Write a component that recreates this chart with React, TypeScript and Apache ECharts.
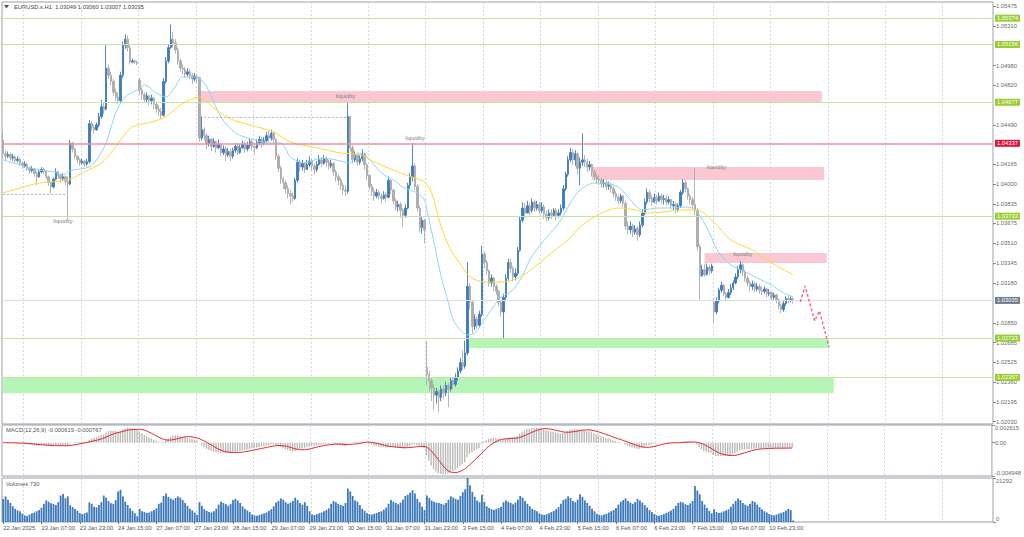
import React, { useEffect, useRef } from "react";
import * as echarts from "echarts";

// ---------- DATA (prices stored as points: price = 1 + pts / 100000) ----------
const symbolName = "EURUSD.s.H1";

// bars that open after a session gap (first bar, weekend gaps)
const sessionOpens: Record<number, number> = { 0: 4365, 57: 4860, 177: 2480, 297: 3020 };

const closePts = [
  4250, 4230, 4245, 4215, 4225, 4195, 4205, 4170, 4150, 4165,
  4130, 4110, 4125, 4085, 4060, 4100, 4120, 4105, 4060, 4010,
  3975, 4040, 4100, 4070, 4045, 4060, 4020, 4000, 4340, 4290,
  4230, 4200, 4175, 4190, 4165, 4185, 4500, 4470, 4450, 4490,
  4560, 4640, 4620, 4960, 4900, 4850, 4760, 4720, 4690, 4900,
  5150, 5200, 5130, 5010, 5020, 5010, 5000, 4780, 4740, 4700,
  4730, 4690, 4710, 4660, 4620, 4600, 4570, 4850, 5020, 5130,
  5200, 5170, 5110, 5020, 4960, 4950, 4910, 4930, 4900, 4870,
  4890, 4880, 4380, 4450, 4400, 4330, 4370, 4310, 4350, 4300,
  4330, 4260, 4290, 4240, 4270, 4230, 4280, 4310, 4260, 4300,
  4330, 4290, 4320, 4350, 4310, 4300, 4340, 4370, 4330, 4360,
  4400, 4380, 4420, 4370, 4230, 4130, 4040, 4010, 3960, 3920,
  3900, 3880, 4030, 4180, 4140, 4170, 4120, 4160, 4190, 4150,
  4120, 4160, 4200, 4170, 4210, 4180, 4150, 4170, 4100, 4060,
  4030, 3990, 3950, 3940, 4560, 4300, 4200, 4240, 4180, 4210,
  4250, 4160, 4070, 3980, 3940, 3900, 3930, 3900, 3880, 3910,
  3890, 4030, 3950, 3860, 3810, 3830, 3780, 3740, 3800, 3990,
  4060, 4150, 3980, 3800, 3640, 3700, 3620,
  2420, 2370, 2310, 2250, 2280, 2230, 2300, 2270, 2330, 2300,
  2370, 2340, 2400, 2450, 2520, 2490, 2600, 3150, 3020, 2820,
  2880, 2830, 2920, 3420, 3350, 3280, 3180, 3220, 3150, 3110,
  3020, 2940, 3060, 3220, 3350, 3300, 3230, 3260, 3450, 3700,
  3800, 3760, 3820, 3780, 3850, 3800, 3830, 3780, 3810, 3750,
  3720, 3760, 3740, 3780, 3740, 3760, 3800, 3960, 4080, 4200,
  4260, 4200, 4250, 4130, 4180, 4200, 4180, 4140, 4160, 4100,
  4060, 4040, 4030, 4000, 4010, 3980, 3990, 3960, 3920, 3890,
  3860, 3900, 3840, 3650, 3620, 3650, 3600, 3630, 3580, 3660,
  3760, 3850, 3930, 3880, 3850, 3890, 3860, 3900, 3870, 3880,
  3850, 3870, 3820, 3830, 3790, 3820, 3930, 4010, 3960, 3900,
  3870, 3830, 3780, 3480, 3240, 3290, 3250, 3310, 3280, 3320,
  2940, 3030, 3120, 3160, 3090, 3060, 3100, 3140, 3180, 3230,
  3290, 3330, 3270, 3220, 3180, 3150, 3170, 3130, 3150, 3120,
  3110, 3130, 3090, 3100, 3060, 3080, 3040, 2990, 2960, 3010,
  3050, 3040, 3049, 3035,
];

const highPts = [
  4440, 4280, 4270, 4260, 4250, 4240, 4230, 4215, 4185, 4190,
  4175, 4145, 4150, 4135, 4100, 4115, 4140, 4135, 4115, 4070,
  4020, 4055, 4130, 4110, 4085, 4090, 4070, 4060, 4365, 4350,
  4300, 4240, 4215, 4210, 4200, 4210, 4530, 4520, 4490, 4510,
  4590, 4700, 4680, 5150, 4990, 4930, 4870, 4790, 4760, 4930,
  5180, 5240, 5230, 5150, 5040, 5030, 5025, 4880, 4800, 4760,
  4760, 4740, 4740, 4720, 4680, 4650, 4630, 4880, 5050, 5160,
  5320, 5260, 5200, 5130, 5040, 4990, 4970, 4960, 4950, 4920,
  4920, 4910, 4890, 4560, 4470, 4420, 4400, 4380, 4380, 4360,
  4370, 4340, 4320, 4310, 4300, 4290, 4300, 4340, 4330, 4330,
  4360, 4350, 4350, 4380, 4370, 4340, 4370, 4400, 4390, 4390,
  4430, 4440, 4450, 4430, 4380, 4250, 4150, 4060, 4030, 3990,
  3950, 3930, 4050, 4210, 4200, 4200, 4180, 4200, 4230, 4210,
  4170, 4190, 4240, 4220, 4240, 4230, 4200, 4200, 4180, 4120,
  4080, 4050, 4010, 3990, 4680, 4480, 4320, 4270, 4250, 4240,
  4290, 4260, 4170, 4080, 4000, 3970, 3960, 3950, 3920, 3940,
  3930, 4060, 4040, 3960, 3880, 3860, 3850, 3800, 3830, 4010,
  4090, 4340, 4170, 4000, 3820, 3730, 3710,
  2700, 2450, 2400, 2340, 2310, 2300, 2330, 2330, 2360, 2350,
  2400, 2400, 2430, 2480, 2560, 2620, 2700, 3350, 3180, 3040,
  2920, 2900, 2950, 3490, 3440, 3370, 3290, 3250, 3230, 3170,
  3120, 3030, 3090, 3250, 3380, 3380, 3320, 3300, 3480, 3730,
  3850, 3840, 3860, 3840, 3880, 3870, 3860, 3850, 3850, 3830,
  3780, 3790, 3790, 3800, 3800, 3790, 3830, 3990, 4100, 4230,
  4300, 4290, 4280, 4260, 4220, 4420, 4240, 4210, 4190, 4170,
  4120, 4080, 4070, 4050, 4040, 4030, 4020, 4010, 3980, 3940,
  3910, 3920, 3910, 3860, 3690, 3690, 3670, 3660, 3650, 3690,
  3790, 3880, 3960, 3950, 3910, 3920, 3910, 3930, 3920, 3910,
  3910, 3900, 3880, 3860, 3850, 3840, 3950, 4040, 4030, 3970,
  3920, 3890, 4130, 3800, 3500, 3330, 3340, 3340, 3330, 3340,
  3050, 3060, 3140, 3190, 3170, 3110, 3130, 3170, 3200, 3260,
  3320, 3360, 3350, 3290, 3240, 3200, 3200, 3190, 3180, 3170,
  3150, 3150, 3140, 3130, 3110, 3100, 3090, 3050, 3010, 3030,
  3070, 3080, 3070, 3060,
];

const lowPts = [
  4210, 4200, 4215, 4195, 4190, 4175, 4180, 4150, 4125, 4135,
  4110, 4085, 4095, 4060, 3990, 4050, 4090, 4080, 4040, 3985,
  3920, 3965, 4030, 4045, 4010, 4025, 3990, 3705, 3990, 4260,
  4210, 4170, 4150, 4160, 4140, 4150, 4170, 4440, 4420, 4440,
  4470, 4540, 4580, 4610, 4870, 4820, 4730, 4690, 4660, 4680,
  4880, 5120, 5100, 4990, 5000, 4995, 4985, 4740, 4700, 4670,
  4680, 4650, 4660, 4620, 4590, 4560, 4540, 4560, 4830, 5000,
  5120, 5130, 5080, 4990, 4930, 4910, 4880, 4890, 4870, 4830,
  4850, 4840, 4350, 4360, 4360, 4290, 4310, 4270, 4300, 4260,
  4290, 4230, 4240, 4190, 4220, 4190, 4210, 4260, 4240, 4250,
  4290, 4260, 4270, 4300, 4280, 4250, 4290, 4320, 4300, 4320,
  4340, 4350, 4360, 4330, 4200, 4100, 4000, 3960, 3920, 3880,
  3830, 3850, 3870, 4010, 4100, 4110, 4090, 4120, 4140, 4110,
  4080, 4100, 4150, 4140, 4160, 4140, 4120, 4130, 4070, 4020,
  3990, 3950, 3910, 3900, 3920, 4270, 4170, 4180, 4150, 4160,
  4190, 4120, 4030, 3950, 3900, 3860, 3880, 3870, 3840, 3870,
  3850, 3880, 3920, 3830, 3780, 3770, 3720, 3640, 3720, 3790,
  3960, 4020, 3950, 3770, 3600, 3590, 3510,
  2330, 2280, 2200, 2130, 2180, 2110, 2200, 2220, 2240, 2150,
  2280, 2300, 2320, 2370, 2430, 2460, 2470, 2580, 2960, 2760,
  2790, 2800, 2810, 2900, 3300, 3250, 3150, 3150, 3110, 3080,
  2990, 2900, 2720, 3040, 3200, 3260, 3190, 3200, 3240, 3440,
  3680, 3720, 3760, 3740, 3760, 3770, 3780, 3750, 3760, 3710,
  3690, 3700, 3710, 3730, 3700, 3720, 3740, 3780, 3940, 4060,
  4180, 4160, 4150, 4080, 3990, 4150, 4140, 4100, 4110, 4060,
  4030, 4000, 3990, 3970, 3970, 3950, 3950, 3930, 3890, 3860,
  3830, 3840, 3810, 3620, 3580, 3590, 3560, 3580, 3530, 3560,
  3640, 3740, 3830, 3850, 3820, 3840, 3830, 3850, 3840, 3830,
  3820, 3830, 3790, 3780, 3760, 3770, 3800, 3910, 3930, 3870,
  3830, 3800, 3740, 3450, 3040, 3230, 3230, 3240, 3250, 3260,
  2850, 2920, 3010, 3100, 3070, 3030, 3050, 3080, 3120, 3170,
  3210, 3260, 3240, 3190, 3150, 3110, 3120, 3100, 3110, 3090,
  3080, 3090, 3060, 3070, 3030, 3040, 3010, 2960, 2930, 2940,
  2990, 3010, 3020, 3007,
];

const volumes = [
  11200, 12400, 10800, 9200, 7600, 6400, 5600, 5200, 4100,
  3200, 2900, 3600, 4200, 4600, 5200, 5800, 6900, 8800, 10400, 9800, 9100, 8700, 8200, 9600, 12800, 13600, 11500, 12400, 8100, 7200, 6300, 5400, 4300,
  3800, 4200, 4600, 9500, 8800, 7400, 7100, 8200, 9600, 12800, 11800, 10200, 9100, 8800, 10600, 14800, 15600, 12400, 9800, 8200, 6600, 5400, 4200, 2800,
  6400, 5200, 4800, 4400, 4600, 5200, 5800, 6600, 8800, 9400, 12600, 13800, 12200, 11400, 10800, 11600, 12400, 11800, 10600, 9200, 7800, 6400, 5600, 4600,
  3400, 9600, 7800, 6200, 5400, 4800, 4600, 5200, 6400, 8400, 9800, 9200, 8600, 7800, 8800, 10600, 11200, 10400, 9200, 7600, 6400, 5600, 4800, 3600,
  3200, 3000, 3400, 3800, 4200, 4600, 5400, 6200, 7600, 9400, 10200, 11400, 10800, 9600, 8800, 9400, 10200, 11800, 10600, 9200, 8400, 9600, 7800, 5200,
  3600, 3400, 3800, 4200, 4600, 5200, 5800, 6600, 8800, 10200, 9600, 8800, 8200, 7800, 9200, 16200, 14800, 12600, 10400, 9800, 8200, 6400, 5400, 4200,
  3800, 3600, 4000, 4400, 4800, 5200, 6000, 7000, 8800, 10600, 9800, 9200, 8600, 9400, 10800, 12600, 13200, 14200, 15400, 13800, 11200, 9600, 7400, 5800,
  12800, 11600, 10400, 9800, 9400, 9200, 8800, 8400, 9200, 10800, 12400, 11800, 11200, 10800, 12600, 14400, 15800, 21292, 17800, 14600, 12200, 10400, 9600, 13200,
  9800, 7600, 6800, 6200, 5800, 6400, 6800, 7400, 9600, 10400, 9800, 9200, 8600, 9400, 10800, 12600, 11800, 10200, 8800, 7600, 6400, 5800, 5200, 4200,
  3600, 3400, 3800, 4200, 4800, 5400, 6200, 7200, 8800, 10600, 11200, 12400, 11600, 10200, 9600, 10800, 13400, 12200, 10400, 9200, 7800, 6400, 5200, 4000,
  3400, 3200, 3600, 4000, 4600, 5200, 5800, 6800, 8400, 9800, 10600, 11400, 10200, 9400, 8800, 9600, 11200, 10400, 9400, 8200, 7000, 5800, 4800, 3800,
  3200, 3000, 3400, 3800, 4400, 5000, 5600, 6400, 7800, 9200, 9800, 9400, 8600, 8200, 9000, 10200, 17400, 15200, 13400, 10200, 8400, 6800, 5400, 4200,
  6200, 4800, 4400, 4600, 5200, 5600, 6200, 7400, 8800, 10200, 11400, 10600, 9200, 8400, 7800, 8800, 10200, 9600, 8400, 7200, 6200, 5200, 4600, 3800,
  3400, 3200, 3600, 4000, 4400, 4800, 5600, 6400, 5800, 730,
];

// x-axis labels, one every 16 hourly bars starting at bar 0
const xTickLabels = [
  "22 Jan 2025", "23 Jan 07:00", "23 Jan 23:00", "24 Jan 15:00", "27 Jan 07:00",
  "27 Jan 23:00", "28 Jan 15:00", "29 Jan 07:00", "29 Jan 23:00", "30 Jan 15:00",
  "31 Jan 07:00", "31 Jan 23:00", "3 Feb 15:00", "4 Feb 07:00", "4 Feb 23:00",
  "5 Feb 15:00", "6 Feb 07:00", "6 Feb 23:00", "7 Feb 15:00", "10 Feb 07:00", "10 Feb 23:00",
];
const ticksPerLabel = 16;
const barsPerDay = 24;
const firstMidnightBar = 9;
const futureSlots = 83;

const priceTicks = [
  1.05475, 1.0531, 1.0498, 1.0482, 1.0449, 1.04165, 1.04, 1.03835, 1.03675,
  1.0351, 1.03345, 1.0318, 1.0285, 1.02685, 1.02525, 1.0236, 1.02195, 1.0203,
];
const priceRange = [1.02011, 1.05508];

const greenLevels = [1.05374, 1.05156, 1.04677, 1.03733, 1.02723, 1.02397];
const redLevel = 1.04337;

// zones: [fromBar, toBar, top, bottom]
const pinkZones = [
  [82, 342, 1.0477, 1.04677],
  [246, 343, 1.04141, 1.04033],
  [293, 344, 1.03428, 1.03346],
];
const greenZones = [
  [194, 345, 1.02723, 1.02641],
  [0, 347, 1.02397, 1.02265],
];
// "liquidity" notes: [bar, price]
const liquidityNotes = [
  [25, 1.0369],
  [143, 1.04725],
  [172, 1.04385],
  [298, 1.04141],
  [309, 1.0342],
];
// dashed guide segments: [fromBar, toBar, price]
const guideSegments = [
  [0, 26, 1.03917],
  [84, 144, 1.04555],
];
// forecast path: [bar, price]
const forecastPath = [
  [333, 1.03022],
  [335, 1.03155],
  [339, 1.02865],
  [341, 1.02948],
  [345, 1.02649],
];

// moving averages: [bar, pts]
const fastMaPts = [
  [0, 4199], [7, 4158], [15, 4116], [21, 4100], [25, 4075], [28, 4110], [36, 4141], [39, 4199],
  [43, 4340], [47, 4589], [51, 4721], [56, 4779], [59, 4821], [64, 4754], [68, 4721], [71, 4779],
  [75, 4887], [79, 4887], [84, 4837], [91, 4555], [97, 4423], [105, 4365], [112, 4340], [116, 4340],
  [120, 4224], [126, 4174], [133, 4216], [139, 4199], [145, 4174], [148, 4257], [152, 4224],
  [158, 4091], [163, 4033], [167, 3975], [173, 3926], [176, 3868], [177, 3785], [180, 3511],
  [183, 3230], [186, 3014], [188, 2873], [191, 2790], [194, 2749], [197, 2765], [203, 2931],
  [208, 3064], [212, 3105], [216, 3205], [220, 3370], [225, 3511], [229, 3602], [233, 3702],
  [237, 3843], [241, 3950], [247, 4008], [251, 4008], [257, 3975], [261, 3892], [267, 3785],
  [274, 3801], [280, 3801], [286, 3810], [290, 3768], [295, 3594], [299, 3428], [304, 3329],
  [310, 3271], [315, 3221], [321, 3163], [326, 3097], [330, 3064],
];
const slowMaPts = [
  [0, 3926], [7, 3967], [15, 4008], [27, 4033], [33, 4091], [41, 4174], [46, 4282], [50, 4390],
  [54, 4473], [62, 4514], [66, 4539], [70, 4589], [74, 4655], [78, 4696], [82, 4721], [89, 4613],
  [96, 4531], [103, 4489], [113, 4431], [120, 4348], [131, 4299], [141, 4257], [149, 4241],
  [156, 4174], [166, 4091], [172, 4050], [176, 4017], [179, 3926], [183, 3644], [187, 3453],
  [191, 3337], [195, 3230], [201, 3188], [209, 3188], [216, 3230], [222, 3312], [229, 3428],
  [236, 3536], [241, 3644], [247, 3727], [253, 3785], [258, 3801], [264, 3785], [269, 3760],
  [276, 3768], [283, 3785], [290, 3785], [296, 3702], [304, 3536], [313, 3453], [321, 3346],
  [330, 3246],
];

const macdRange = [-0.004948, 0.002615];
const macdLegendValues = [-0.000619, -0.000767];
const volumeMax = 21292;

// ---------- BUILD ----------
const FONT = "Liberation Sans";
const FS = 5.8;
const toPrice = (p: number) => +(1 + p / 100000).toFixed(5);

const barTotal = closePts.length;
const slotTotal = barTotal + futureSlots;
const cats = Array.from({ length: slotTotal }, (_, i) => String(i));

const opens = closePts.map((_, i) => (i in sessionOpens ? sessionOpens[i] : closePts[i - 1]));
const candles = closePts.map((c, i) => [toPrice(opens[i]), toPrice(c), toPrice(lowPts[i]), toPrice(highPts[i])]);
const closes = closePts.map(toPrice);
const lastPrice = closes[barTotal - 1];

const ema = (src: number[], n: number) => {
  const k = 2 / (n + 1);
  const out: number[] = [];
  src.forEach((v, i) => out.push(i === 0 ? v : v * k + out[i - 1] * (1 - k)));
  return out;
};
const e12 = ema(closes, 12);
const e26 = ema(closes, 26);
const macdMain = e12.map((v, i) => v - e26[i]);
const macdSignal = macdMain.map((_, i) => {
  const s = macdMain.slice(Math.max(0, i - 8), i + 1);
  return s.reduce((a, b) => a + b, 0) / s.length;
});

const fmt5 = (v: number) => v.toFixed(5);
const title = `${symbolName}  ${fmt5(toPrice(opens[barTotal - 1]))} ${fmt5(toPrice(highPts[barTotal - 1]))} ${fmt5(
  toPrice(lowPts[barTotal - 1])
)} ${fmt5(lastPrice)}`;

const labelTick = (i: number) => i % ticksPerLabel === 0 && i / ticksPerLabel < xTickLabels.length;
const midnight = (i: number) => i >= firstMidnightBar && (i - firstMidnightBar) % barsPerDay === 0;

const xAxisFor = (gridIndex: number, bottom: boolean) => ({
  type: "category",
  gridIndex,
  data: cats,
  boundaryGap: true,
  axisLine: { show: false },
  axisTick: {
    show: bottom,
    interval: (i: number) => labelTick(i),
    alignWithLabel: true,
    length: 2,
    lineStyle: { color: "#777" },
  },
  axisLabel: {
    show: bottom,
    interval: (i: number) => labelTick(i),
    formatter: (v: string) => xTickLabels[Number(v) / ticksPerLabel] ?? "",
    align: "left",
    fontSize: FS,
    fontFamily: FONT,
    color: "#555",
    margin: 3,
  },
  splitLine: {
    show: true,
    interval: (i: number) => midnight(i),
    lineStyle: { color: "#d3d7e2", type: [2, 2], width: 1 },
  },
});

const badge = (bg: string) => ({
  show: true,
  position: "end",
  formatter: (p: any) => Number(p.value).toFixed(5),
  color: "#fff",
  backgroundColor: bg,
  padding: [1, 2, 0, 2],
  fontSize: FS,
  fontFamily: FONT,
  distance: 2,
});

const option: any = {
  animation: false,
  backgroundColor: "#ffffff",
  grid: [
    { left: 2, right: 31, top: 2, height: 422, show: true, borderColor: "#98a0aa", borderWidth: 1 },
    { left: 2, right: 31, top: 425, height: 51, show: true, borderColor: "#98a0aa", borderWidth: 1 },
    { left: 2, right: 31, top: 478, height: 44, show: true, borderColor: "#98a0aa", borderWidth: 1 },
  ],
  xAxis: [xAxisFor(0, false), xAxisFor(1, false), xAxisFor(2, true)],
  yAxis: [
    {
      type: "value",
      gridIndex: 0,
      position: "right",
      min: priceRange[0],
      max: priceRange[1],
      splitLine: { show: false },
      axisLine: { show: false },
      axisTick: { show: true, customValues: priceTicks, length: 3, lineStyle: { color: "#888" } },
      axisLabel: {
        customValues: priceTicks,
        formatter: (v: number) => v.toFixed(5),
        fontSize: FS,
        fontFamily: FONT,
        color: "#6a6a6a",
        margin: 3,
      },
    },
    {
      type: "value",
      gridIndex: 1,
      position: "right",
      min: macdRange[0],
      max: macdRange[1],
      splitLine: { show: false },
      axisLine: { show: false },
      axisTick: { show: true, customValues: [macdRange[0], 0, macdRange[1]], length: 3, lineStyle: { color: "#888" } },
      axisLabel: {
        customValues: [macdRange[0], 0, macdRange[1]],
        formatter: (v: number) => (v === 0 ? "0.00" : v.toFixed(6)),
        verticalAlignMaxLabel: "top",
        verticalAlignMinLabel: "bottom",
        fontSize: FS,
        fontFamily: FONT,
        color: "#6a6a6a",
        margin: 3,
      },
    },
    {
      type: "value",
      gridIndex: 2,
      position: "right",
      min: 0,
      max: volumeMax,
      splitLine: { show: false },
      axisLine: { show: false },
      axisTick: { show: true, customValues: [0, volumeMax], length: 3, lineStyle: { color: "#888" } },
      axisLabel: {
        customValues: [0, volumeMax],
        formatter: (v: number) => String(v),
        verticalAlignMaxLabel: "top",
        verticalAlignMinLabel: "bottom",
        fontSize: FS,
        fontFamily: FONT,
        color: "#6a6a6a",
        margin: 3,
      },
    },
  ],
  series: [
    {
      name: "objects",
      type: "line",
      xAxisIndex: 0,
      yAxisIndex: 0,
      data: [],
      z: 1,
      silent: true,
      markArea: {
        silent: true,
        data: [
          ...pinkZones.map((zn) => [
            { xAxis: String(zn[0]), yAxis: zn[2], itemStyle: { color: "#f9c8d2" } },
            { xAxis: String(zn[1]), yAxis: zn[3] },
          ]),
          ...greenZones.map((zn) => [
            { xAxis: String(zn[0]), yAxis: zn[2], itemStyle: { color: "#b5f5b5" } },
            { xAxis: String(zn[1]), yAxis: zn[3] },
          ]),
        ],
      },
      markLine: {
        silent: true,
        precision: 5,
        symbol: ["none", "none"],
        data: [
          {
            yAxis: lastPrice,
            lineStyle: { color: "#dcdcea", width: 1, type: "solid" },
            label: badge("#6f7d8c"),
          },
          ...greenLevels.map((v) => ({
            yAxis: v,
            lineStyle: { color: "#c4e3a0", width: 1.2, type: "solid" },
            label: badge("#9acd32"),
          })),
          {
            yAxis: redLevel,
            lineStyle: { color: "#f0909f", width: 1.6, type: "solid" },
            label: badge("#dc143c"),
          },
          ...guideSegments.map((g) => [
            {
              coord: [String(g[0]), g[2]],
              lineStyle: { color: "#a0a0a0", width: 0.8, type: [2, 2] },
              label: { show: false },
            },
            { coord: [String(g[1]), g[2]] },
          ]),
        ],
      },
      markPoint: {
        silent: true,
        symbol: "rect",
        symbolSize: 1,
        itemStyle: { color: "rgba(0,0,0,0)" },
        label: {
          show: true,
          position: "inside",
          formatter: "liquidity",
          color: "#808080",
          fontSize: FS,
          fontFamily: FONT,
        },
        data: liquidityNotes.map((n) => ({ coord: [String(n[0]), n[1]] })),
      },
    },
    {
      name: "price",
      type: "candlestick",
      xAxisIndex: 0,
      yAxisIndex: 0,
      z: 3,
      barWidth: 1.9,
      data: candles,
      itemStyle: {
        color: "#3f7cbb",
        color0: "#acacac",
        borderColor: "#3f7cbb",
        borderColor0: "#acacac",
        borderWidth: 0.9,
      },
    },
    {
      name: "fast MA",
      type: "line",
      xAxisIndex: 0,
      yAxisIndex: 0,
      z: 4,
      smooth: 0.3,
      showSymbol: false,
      data: fastMaPts.map((p) => [String(p[0]), toPrice(p[1])]),
      lineStyle: { color: "#8fd3f5", width: 1 },
    },
    {
      name: "slow MA",
      type: "line",
      xAxisIndex: 0,
      yAxisIndex: 0,
      z: 4,
      smooth: 0.3,
      showSymbol: false,
      data: slowMaPts.map((p) => [String(p[0]), toPrice(p[1])]),
      lineStyle: { color: "#ffd82e", width: 1 },
    },
    {
      name: "forecast",
      type: "line",
      xAxisIndex: 0,
      yAxisIndex: 0,
      z: 5,
      showSymbol: false,
      data: forecastPath.map((p) => [String(p[0]), p[1]]),
      lineStyle: { color: "#f26a8d", width: 1.5, type: [3, 2] },
    },
    {
      name: "MACD",
      type: "bar",
      xAxisIndex: 1,
      yAxisIndex: 1,
      barWidth: 1.3,
      data: macdMain,
      itemStyle: { color: "#b6b6b6" },
    },
    {
      name: "Signal",
      type: "line",
      xAxisIndex: 1,
      yAxisIndex: 1,
      showSymbol: false,
      data: macdSignal,
      lineStyle: { color: "#e8262a", width: 1 },
    },
    {
      name: "Volumes",
      type: "bar",
      xAxisIndex: 2,
      yAxisIndex: 2,
      barWidth: 1.8,
      data: volumes,
      itemStyle: { color: "#3d79b9" },
    },
  ],
  graphic: [
    { type: "polygon", shape: { points: [[4, 5], [9, 5], [6.5, 8.5]] }, style: { fill: "#555" } },
    { type: "text", left: 14, top: 4, style: { text: title, font: `${FS}px ${FONT}`, fill: "#444" } },
    {
      type: "text",
      left: 6,
      top: 427,
      style: {
        text: `MACD(12,26,9) ${macdLegendValues[0].toFixed(6)} ${macdLegendValues[1].toFixed(6)}`,
        font: `${FS}px ${FONT}`,
        fill: "#555",
      },
    },
    {
      type: "text",
      left: 6,
      top: 481,
      style: { text: `Volumes ${volumes[barTotal - 1]}`, font: `${FS}px ${FONT}`, fill: "#555" },
    },
  ],
};

export default function App() {
  const ref = useRef<HTMLDivElement>(null);
  useEffect(() => {
    if (!ref.current) return;
    const chart = echarts.init(ref.current, null, { renderer: "svg" });
    chart.setOption(option);
    return () => chart.dispose();
  }, []);
  return (
    <div
      ref={ref}
      style={{ position: "fixed", left: 0, top: 0, width: 1024, height: 537, background: "#fff" }}
    />
  );
}
